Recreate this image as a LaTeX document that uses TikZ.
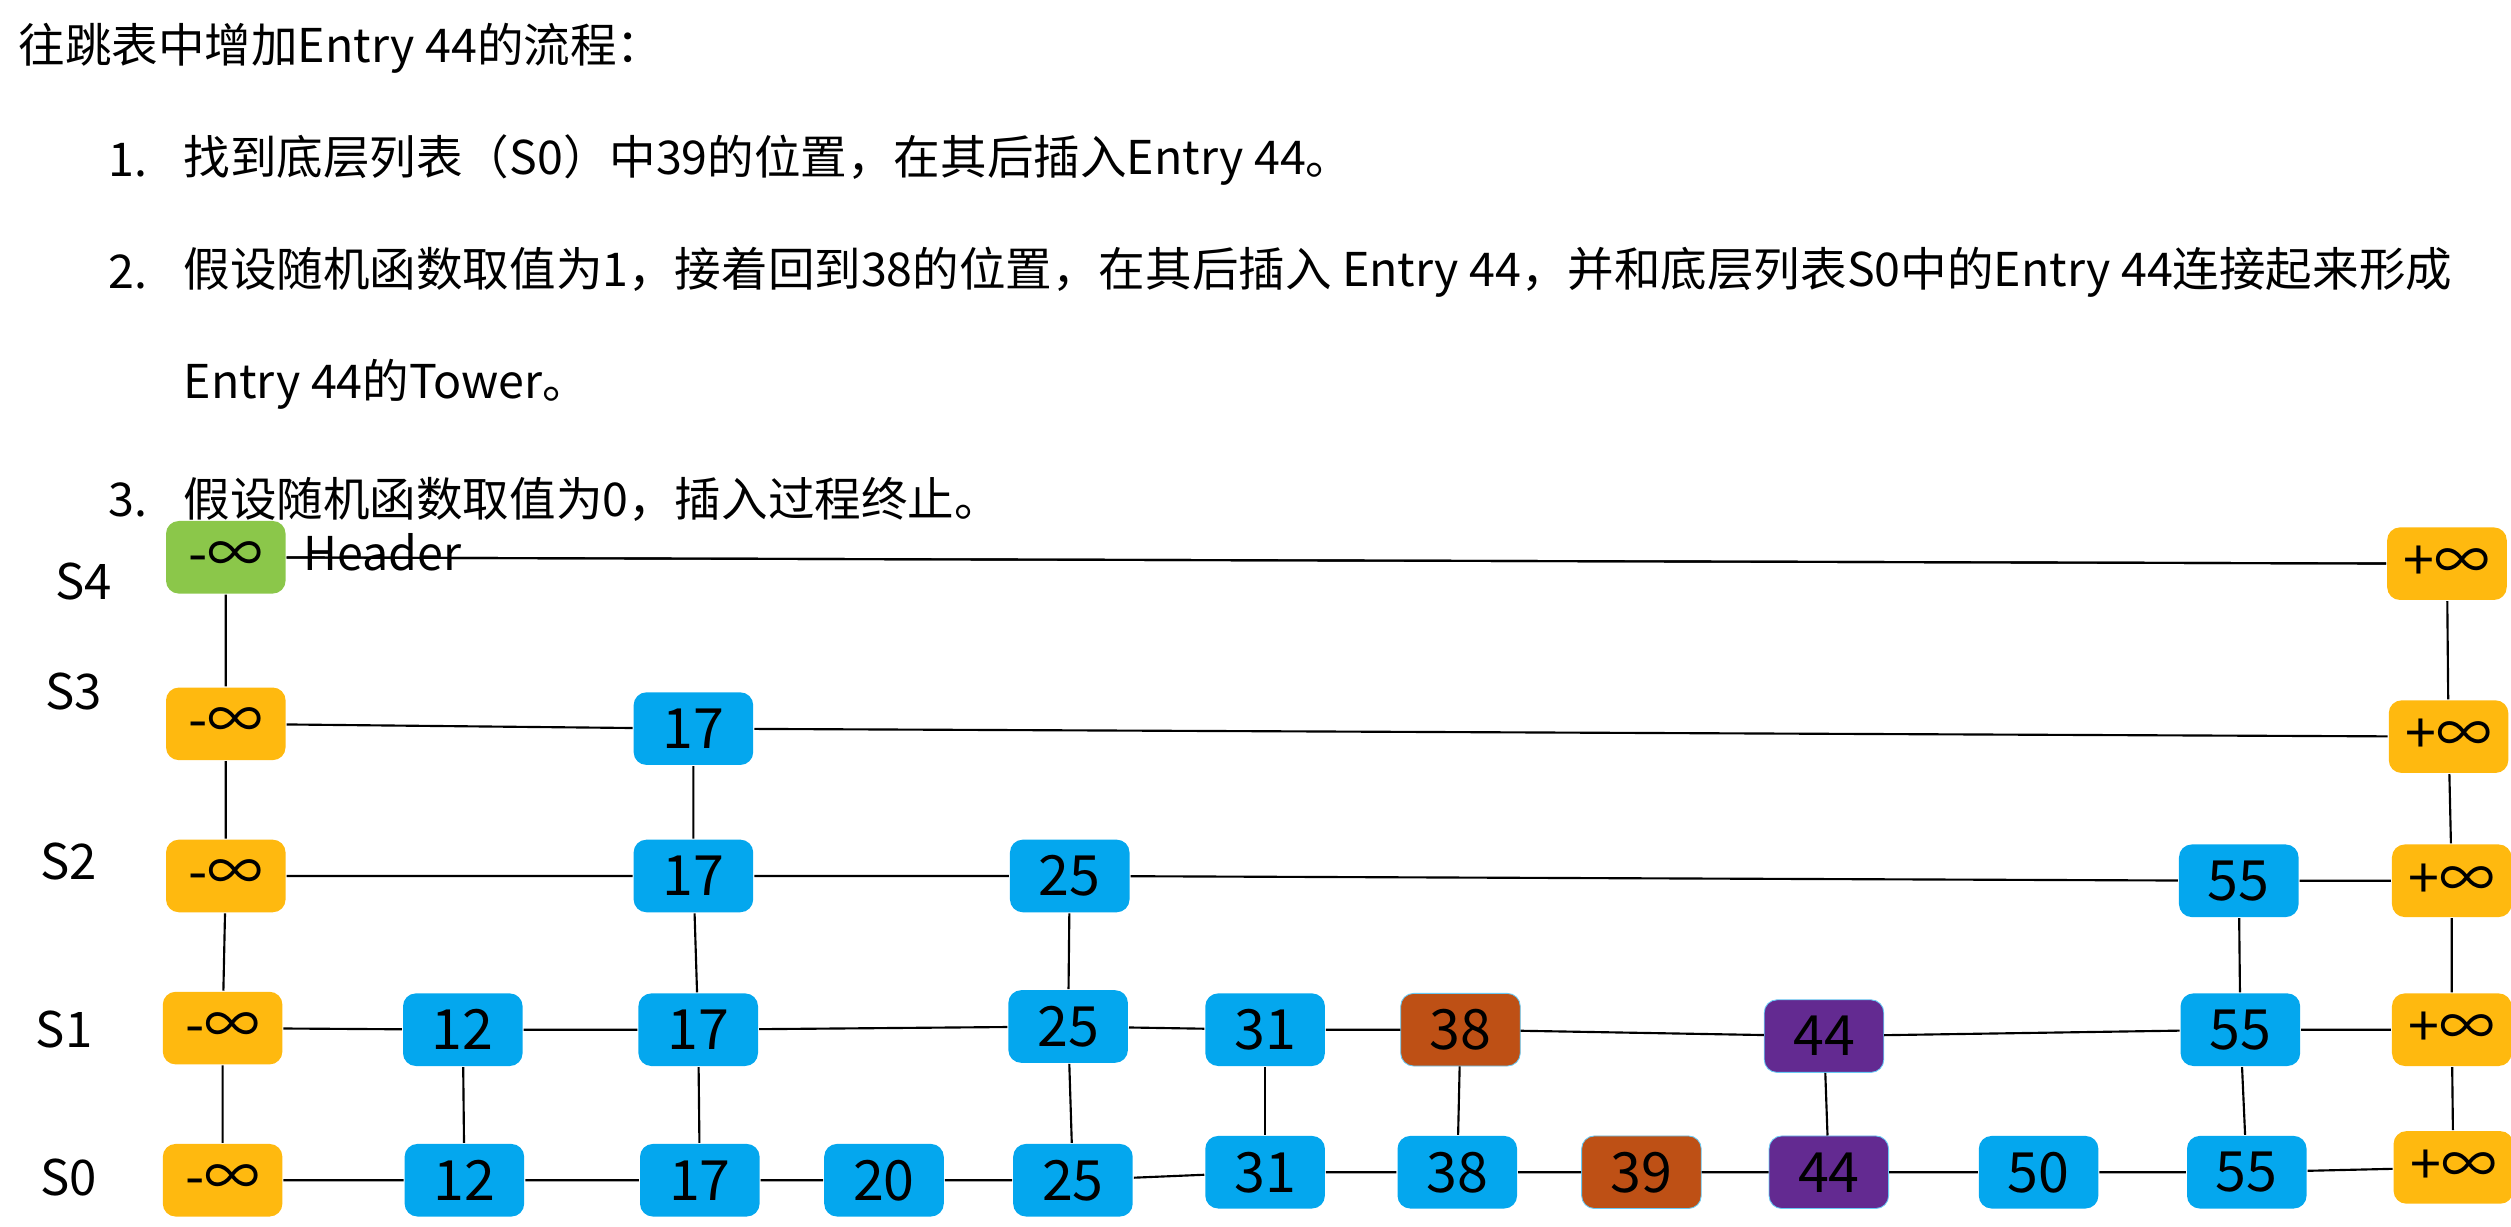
\documentclass[tikz,border=0pt]{standalone}
\usepackage{fontspec}
\setmainfont{Noto Sans CJK SC}
\definecolor{hdgreen}{RGB}{139,199,74}
\definecolor{infamber}{RGB}{255,185,15}
\definecolor{keyblue}{RGB}{4,167,238}
\definecolor{newbrown}{RGB}{190,80,21}
\definecolor{newpurple}{RGB}{99,42,145}
\tikzset{every picture/.style={line width=1pt}}
\tikzset{
  entry/.style={rounded corners=6pt, minimum width=56pt, minimum height=34pt, inner sep=0pt, font=\fontsize{26}{28}\selectfont},
  infbox/.style={entry, fill=infamber},
  hdbox/.style={entry, fill=hdgreen},
  keybox/.style={entry, fill=keyblue},
  brownbox/.style={entry, fill=newbrown, draw=keyblue!60, line width=0.4pt},
  purplebox/.style={entry, fill=newpurple, draw=keyblue!60, line width=0.4pt},
  txt/.style={anchor=west, inner sep=0.75pt, font=\fontsize{21.8}{24}\selectfont},
  lvl/.style={inner sep=0.75pt, font=\fontsize{23}{25}\selectfont}
}

\begin{document}
\begin{tikzpicture}[x=0.75pt,y=0.75pt,yscale=-1,xscale=1]
\path[use as bounding box] (0,0) rectangle (1568,766);

% Text Node
\draw (10,30) node [txt] (title) {往跳表中增加Entry 44的流程：};
% Text Node
\draw (66,100) node [txt] (num1) {1.};
\draw (113,100) node [txt] (step1) {找到底层列表（S0）中39的位置，在其后插入Entry 44。};
% Text Node
\draw (66,170) node [txt] (num2) {2.};
\draw (113,170) node [txt] (step2) {假设随机函数取值为1，接着回到38的位置，在其后插入 Entry 44，并和底层列表S0中的Entry 44连接起来形成};
\draw (113,240) node [txt] (step2b) {Entry 44的Tower。};
% Text Node
\draw (66,312) node [txt] (num3) {3.};
\draw (113,312) node [txt] (step3) {假设随机函数取值为0，插入过程终止。};

% Level labels
\draw (52,363) node [lvl] (lS4) {S4};
\draw (46,432) node [lvl] (lS3) {S3};
\draw (43,538) node [lvl] (lS2) {S2};
\draw (40,643) node [lvl] (lS1) {S1};
\draw (43,735) node [lvl] (lS0) {S0};

%Rounded Rect: S4
\draw (141,348) node [hdbox] (a4) {-∞};
\draw (1528,352) node [infbox] (z4) {+∞};
%Rounded Rect: S3
\draw (141,452) node [infbox] (a3) {-∞};
\draw (433,455) node [keybox] (c3) {17};
\draw (1529,460) node [infbox] (z3) {+∞};
%Rounded Rect: S2
\draw (141,547) node [infbox] (a2) {-∞};
\draw (433,547) node [keybox] (c2) {17};
\draw (668,547) node [keybox] (e2) {25};
\draw (1398,550) node [keybox] (k2) {55};
\draw (1531,550) node [infbox] (z2) {+∞};
%Rounded Rect: S1
\draw (139,642) node [infbox] (a1) {-∞};
\draw (289,643) node [keybox] (b1) {12};
\draw (436,643) node [keybox] (c1) {17};
\draw (667,641) node [keybox] (e1) {25};
\draw (790,643) node [keybox] (f1) {31};
\draw (912,643) node [brownbox] (g1) {38};
\draw (1139,647) node [purplebox] (i1) {44};
\draw (1399,643) node [keybox] (k1) {55};
\draw (1531,643) node [infbox] (z1) {+∞};
%Rounded Rect: S0
\draw (139,737) node [infbox] (a0) {-∞};
\draw (290,737) node [keybox] (b0) {12};
\draw (437,737) node [keybox] (c0) {17};
\draw (552,737) node [keybox] (d0) {20};
\draw (670,737) node [keybox] (e0) {25};
\draw (790,732) node [keybox] (f0) {31};
\draw (910,732) node [keybox] (g0) {38};
\draw (1025,732) node [brownbox] (h0) {39};
\draw (1142,732) node [purplebox] (i0) {44};
\draw (1273,732) node [keybox] (j0) {50};
\draw (1403,732) node [keybox] (k0) {55};
\draw (1532,729) node [infbox] (z0) {+∞};

%Straight Lines: levels
\draw (a4) -- (z4);
\draw (a3) -- (c3) -- (z3);
\draw (a2) -- (c2) -- (e2) -- (k2) -- (z2);
\draw (a1) -- (b1) -- (c1) -- (e1) -- (f1) -- (g1) -- (i1) -- (k1) -- (z1);
\draw (a0) -- (b0) -- (c0) -- (d0) -- (e0) -- (f0) -- (g0) -- (h0) -- (i0) -- (j0) -- (k0) -- (z0);
%Straight Lines: towers
\draw (a4) -- (a3) -- (a2) -- (a1) -- (a0);
\draw (z4) -- (z3) -- (z2) -- (z1) -- (z0);
\draw (c3) -- (c2) -- (c1) -- (c0);
\draw (e2) -- (e1) -- (e0);
\draw (k2) -- (k1) -- (k0);
\draw (b1) -- (b0);
\draw (f1) -- (f0);
\draw (g1) -- (g0);
\draw (i1) -- (i0);

% Text Node
\draw (188,345) node [txt] (hdr) {Header};
\draw (a4) -- (z4);

\end{tikzpicture}
\end{document}
